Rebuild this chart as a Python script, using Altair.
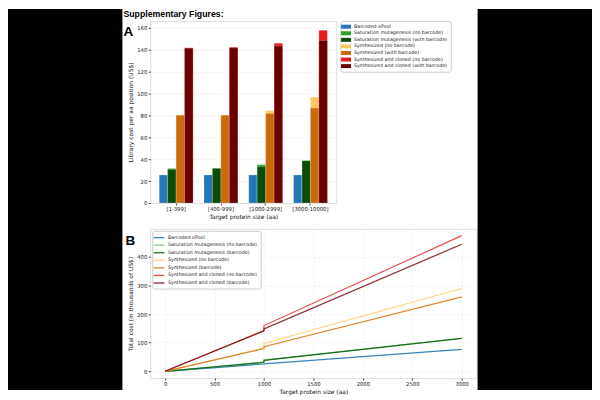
import altair as alt
import pandas as pd

# ---------------- Panel A data ----------------
groups = ["[1-399]", "[400-999]", "[1000-2999]", "[3000-10000]"]
series_a = [
    "Barcoded oPool",
    "Saturation mutagenesis (no barcode)",
    "Saturation mutagenesis (with barcode)",
    "Synthesized (no barcode)",
    "Synthesized (with barcode)",
    "Synthesized and cloned (no barcode)",
    "Synthesized and cloned (with barcode)",
]
colors_a = ["#2477b8", "#2ca02c", "#0a4d0a", "#ffc75e", "#cc6a0b", "#e8191c", "#6a0000"]
slot_a = [0, 1, 1, 2, 2, 3, 3]
opool = [25.5, 25.5, 25.5, 25.5]
sat_nobc = [31.5, 31.5, 35.0, 38.5]
sat_bc = [30.5, 31.5, 33.0, 38.5]
syn_nobc = [80.0, 80.0, 84.0, 96.5]
syn_bc = [80.0, 80.0, 81.5, 86.5]
clo_nobc = [141.5, 142.0, 145.5, 157.5]
clo_bc = [141.0, 141.5, 143.0, 148.0]

# ---------------- Panel B data ----------------
sizes_b = [0, 999, 1000, 3000]
series_b = [
    "Barcoded oPool",
    "Saturation mutagenesis (no barcode)",
    "Saturation mutagenesis (barcode)",
    "Synthesized (no barcode)",
    "Synthesized (barcode)",
    "Synthesized and cloned (no barcode)",
    "Synthesized and cloned (barcode)",
]
colors_b = ["#1f77b4", "#77c977", "#0b5e0b", "#ffcf70", "#d97a1e", "#e8383c", "#7a1515"]
b_opool = [0, 25.5, 25.8, 76.7]
b_sat_nobc = [0, 32.0, 39.0, 115.5]
b_sat_bc = [0, 31.0, 38.5, 115.0]
b_syn_nobc = [0, 80.0, 97.5, 289.5]
b_syn_bc = [0, 79.5, 86.0, 260.0]
b_clo_nobc = [0, 142.0, 160.0, 474.0]
b_clo_bc = [0, 141.5, 148.0, 444.0]

# ---------------- Texts ----------------
header_text = ["Supplementary Figures:"]
label_a = ["A"]
label_b = ["B"]

FONT = "DejaVu Sans"
BOLD_FONT = "Liberation Sans"

# ---- build table A (no-barcode bars drawn first, barcode bars on top)
draw_seq = [(0, opool), (1, sat_nobc), (3, syn_nobc), (5, clo_nobc),
            (2, sat_bc), (4, syn_bc), (6, clo_bc)]
rows = []
for si, vals in draw_seq:
    for g, v in zip(groups, vals):
        rows.append({"group": g, "series": series_a[si], "slot": slot_a[si],
                     "cost": v, "draw": len(rows)})
df_a = pd.DataFrame(rows)

# ---- build table B
rows_b = []
for name, vals in zip(series_b, [b_opool, b_sat_nobc, b_sat_bc, b_syn_nobc,
                                 b_syn_bc, b_clo_nobc, b_clo_bc]):
    for s, v in zip(sizes_b, vals):
        rows_b.append({"size": s, "total": v, "line": name})
df_b = pd.DataFrame(rows_b)

axis_common = dict(labelFontSize=5.3, titleFontSize=6, labelColor="#222",
                   titleColor="#111", tickColor="#444", tickSize=2,
                   labelPadding=1.5, domain=False, titleFontWeight="normal",
                   labelFont=FONT, titleFont=FONT)

legend_common = dict(title=None, labelFontSize=4.8, labelFont=FONT,
                     labelColor="#222", symbolSize=36, rowPadding=0.6,
                     padding=2.8, strokeColor="#cccccc", fillColor="white",
                     cornerRadius=2, labelLimit=300, labelOffset=5)

bars_a = alt.Chart(df_a).mark_bar(stroke="white", strokeWidth=0.3,
                                  strokeOpacity=0.7).encode(
    x=alt.X("group:N", sort=groups, title="Target protein size (aa)",
            scale=alt.Scale(paddingInner=0.244, paddingOuter=0.2),
            axis=alt.Axis(labelAngle=0, grid=False, titlePadding=2, **axis_common)),
    xOffset=alt.XOffset("slot:O", scale=alt.Scale(paddingInner=0, paddingOuter=0)),
    y=alt.Y("cost:Q", stack=None, title="Library cost per aa position (US$)",
            scale=alt.Scale(domain=[0, 165.9], nice=False),
            axis=alt.Axis(values=list(range(0, 161, 20)), grid=True,
                          gridDash=[2, 2], gridColor="#dddddd", gridWidth=0.6,
                          titlePadding=3, **axis_common)),
    color=alt.Color("series:N", scale=alt.Scale(domain=series_a, range=colors_a),
                    legend=alt.Legend(orient="right", offset=4,
                                      symbolType="M-1.67,-0.67H1.67V0.67H-1.67Z",
                                      symbolStrokeWidth=0, symbolOpacity=1,
                                      **legend_common)),
    order=alt.Order("draw:Q"),
)

header = alt.Chart(pd.DataFrame({"t": header_text})).mark_text(
    align="left", baseline="top", font=BOLD_FONT, fontWeight="bold",
    fontSize=8.8, color="black"
).encode(x=alt.value(-27), y=alt.value(-11), text="t:N")

letter_a = alt.Chart(pd.DataFrame({"t": label_a})).mark_text(
    align="left", baseline="alphabetic", font=BOLD_FONT, fontWeight="bold",
    fontSize=13.5, color="black"
).encode(x=alt.value(-27), y=alt.value(15), text="t:N")

chart_a = alt.layer(bars_a, header, letter_a).properties(width=187, height=183)

lines_b = alt.Chart(df_b).mark_line(strokeWidth=1.2, opacity=0.9).encode(
    x=alt.X("size:Q", title="Target protein size (aa)",
            scale=alt.Scale(domain=[-150, 3150], nice=False, zero=False),
            axis=alt.Axis(values=list(range(0, 3001, 500)), format="d", grid=True,
                          gridColor="#e4e4e4", gridDash=[2, 2], gridWidth=0.6,
                          titlePadding=2, **axis_common)),
    y=alt.Y("total:Q", title="Total cost (in thousands of US$)",
            scale=alt.Scale(domain=[-23.7, 497.7], nice=False, zero=False),
            axis=alt.Axis(values=list(range(0, 401, 100)), format="d", grid=True,
                          gridColor="#e4e4e4", gridDash=[2, 2], gridWidth=0.6,
                          titlePadding=3, **axis_common)),
    color=alt.Color("line:N", scale=alt.Scale(domain=series_b, range=colors_b),
                    legend=alt.Legend(orient="top-left", offset=2,
                                      symbolType="M-1.83,0H1.83",
                                      symbolStrokeWidth=1.3,
                                      **legend_common)),
)

letter_b = alt.Chart(pd.DataFrame({"t": label_b})).mark_text(
    align="left", baseline="alphabetic", font=BOLD_FONT, fontWeight="bold",
    fontSize=13.5, color="black"
).encode(x=alt.value(-25), y=alt.value(16), text="t:N")

chart_b = alt.layer(lines_b, letter_b).properties(width=328, height=150)

middle = alt.vconcat(chart_a, chart_b, spacing=7).resolve_scale(color="independent")

blank = pd.DataFrame({"v": [0]})
PANEL_W = 115
PANEL_H = 371


def side_panel():
    return alt.Chart(blank).mark_rect(color="black").encode(
        x=alt.value(0), x2=alt.value(PANEL_W),
        y=alt.value(-12), y2=alt.value(PANEL_H)
    ).properties(width=PANEL_W, height=PANEL_H,
                 view=alt.ViewBackground(stroke=None, fill=None))


chart = alt.hconcat(side_panel(), middle, side_panel(), spacing=0).properties(
    padding=0, background="white"
).configure_view(stroke="#7a7a7a", strokeWidth=1).configure(font=FONT)

chart.save("out.html", embed_options={"renderer": "svg", "actions": False})
